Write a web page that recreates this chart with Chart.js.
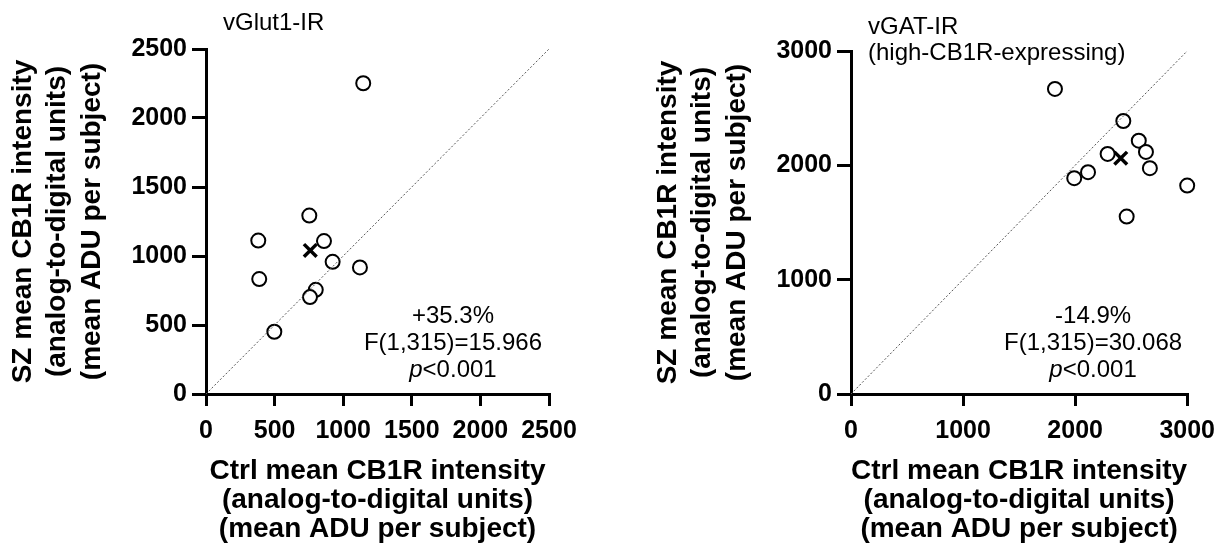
<!DOCTYPE html>
<html lang="en">
  <head>
    <meta charset="UTF-8" />
    <title>CB1R intensity: SZ vs Ctrl</title>
    <script src="https://cdn.jsdelivr.net/npm/chart.js"></script>
    <style>
      body { margin: 0; background: #fff; }
      canvas { position: absolute; top: 0; }
      #glutChart { left: 0; }
      #gatChart { left: 645px; }
    </style>
  </head>

  <body>
    <canvas id="glutChart" width="590" height="552"></canvas>
    <canvas id="gatChart" width="580" height="552"></canvas>

    <script>
      // vGlut1-IR panel (mean ADU per subject pair)
      const glutCtrl = [1146, 753, 381, 860, 923, 1122, 388, 800, 758, 498];
      const glutSz = [2252, 1293, 1112, 1108, 958, 917, 833, 755, 702, 451];
      const glutMeanCtrl = [760];
      const glutMeanSz = [1040];
      const glutTicks = [0, 500, 1000, 1500, 2000, 2500];

      // vGAT-IR (high-CB1R-expressing) panel
      const gatCtrl = [1820, 2430, 2568, 2632, 2290, 2667, 2115, 1992, 3000, 2460];
      const gatSz = [2668, 2388, 2216, 2117, 2100, 1975, 1940, 1888, 1823, 1552];
      const gatMeanCtrl = [2407];
      const gatMeanSz = [2062];
      const gatTicks = [0, 1000, 2000, 3000];

      const font = "'Liberation Sans', Arial, sans-serif";

      // panel label at top-left and the stats block in the lower right
      const panelText = {
        id: "panelText",
        afterDraw(chart, args, opts) {
          const ctx = chart.ctx;
          const area = chart.chartArea;
          ctx.save();
          ctx.fillStyle = "#000";
          ctx.textBaseline = "middle";
          ctx.font = "24px " + font;
          ctx.textAlign = "left";
          opts.title.forEach((line, i) => {
            ctx.fillText(line, area.left + 17, opts.titleY + i * 26);
          });

          const cx = area.left + area.width * 0.72;
          ctx.textAlign = "center";
          ctx.fillText(opts.change, cx, area.bottom - 78);
          ctx.fillText(opts.stat, cx, area.bottom - 51);

          // "p<0.001" with an italic p
          const y = area.bottom - 24;
          ctx.font = "italic 24px " + font;
          const pw = ctx.measureText("p").width;
          ctx.font = "24px " + font;
          const rw = ctx.measureText(opts.pval).width;
          const x0 = cx - (pw + rw) / 2;
          ctx.textAlign = "left";
          ctx.font = "italic 24px " + font;
          ctx.fillText("p", x0, y);
          ctx.font = "24px " + font;
          ctx.fillText(opts.pval, x0 + pw, y);
          ctx.restore();
        },
      };

      function axis(ticks, title, isX) {
        return {
          type: "linear",
          min: ticks[0],
          max: ticks[ticks.length - 1],
          afterBuildTicks: (scale) => {
            scale.ticks = ticks.map((v) => ({ value: v }));
          },
          afterFit: (scale) => {
            if (isX) scale.height = 158;
            else scale.width = 206;
          },
          border: { display: true, color: "#000", width: 3 },
          grid: {
            drawOnChartArea: false,
            drawTicks: true,
            tickLength: isX ? 12 : 14,
            color: "#000",
            lineWidth: 3,
          },
          ticks: {
            color: "#000",
            padding: isX ? 10 : 5,
            callback: (v) => String(v),
            font: { family: font, size: 25, weight: "bold", lineHeight: 1.2 },
          },
          title: {
            display: true,
            text: title,
            color: "#000",
            padding: isX ? { top: 0, bottom: 8 } : { top: 6, bottom: 0 },
            font: {
              family: font,
              size: 28,
              weight: "bold",
              lineHeight: isX ? 1.04 : 1.23,
            },
          },
        };
      }

      function makeChart(id, ctrl, sz, meanCtrl, meanSz, ticks, pad, text) {
        const top = ticks[ticks.length - 1];
        new Chart(document.getElementById(id), {
          type: "scatter",
          data: {
            datasets: [
              {
                type: "line",
                data: [
                  { x: ticks[0], y: ticks[0] },
                  { x: top, y: top },
                ],
                borderColor: "#555",
                borderWidth: 1,
                borderDash: [2, 2],
                pointRadius: 0,
                fill: false,
              },
              {
                data: ctrl.map((v, i) => ({ x: v, y: sz[i] })),
                pointStyle: "circle",
                pointRadius: 7,
                borderColor: "#000",
                backgroundColor: "#fff",
                borderWidth: 2,
                clip: false,
              },
              {
                data: meanCtrl.map((v, i) => ({ x: v, y: meanSz[i] })),
                pointStyle: "crossRot",
                pointRadius: 9,
                borderColor: "#000",
                borderWidth: 3.5,
                clip: false,
              },
            ],
          },
          options: {
            responsive: false,
            animation: false,
            layout: { padding: pad },
            plugins: {
              legend: { display: false },
              tooltip: { enabled: false },
              panelText: text,
            },
            scales: {
              x: axis(
                ticks,
                [
                  "Ctrl mean CB1R intensity",
                  "(analog-to-digital units)",
                  "(mean ADU per subject)",
                ],
                true
              ),
              y: axis(
                ticks,
                [
                  "SZ mean CB1R intensity",
                  "(analog-to-digital units)",
                  "(mean ADU per subject)",
                ],
                false
              ),
            },
          },
          plugins: [panelText],
        });
      }

      makeChart(
        "glutChart",
        glutCtrl,
        glutSz,
        glutMeanCtrl,
        glutMeanSz,
        glutTicks,
        { top: 49, right: 41, bottom: 0, left: 0 },
        {
          title: ["vGlut1-IR"],
          titleY: 23,
          change: "+35.3%",
          stat: "F(1,315)=15.966",
          pval: "<0.001",
        }
      );

      makeChart(
        "gatChart",
        gatCtrl,
        gatSz,
        gatMeanCtrl,
        gatMeanSz,
        gatTicks,
        { top: 51, right: 32, bottom: 0, left: 0 },
        {
          title: ["vGAT-IR", "(high-CB1R-expressing)"],
          titleY: 27,
          change: "-14.9%",
          stat: "F(1,315)=30.068",
          pval: "<0.001",
        }
      );
    </script>
  </body>
</html>
